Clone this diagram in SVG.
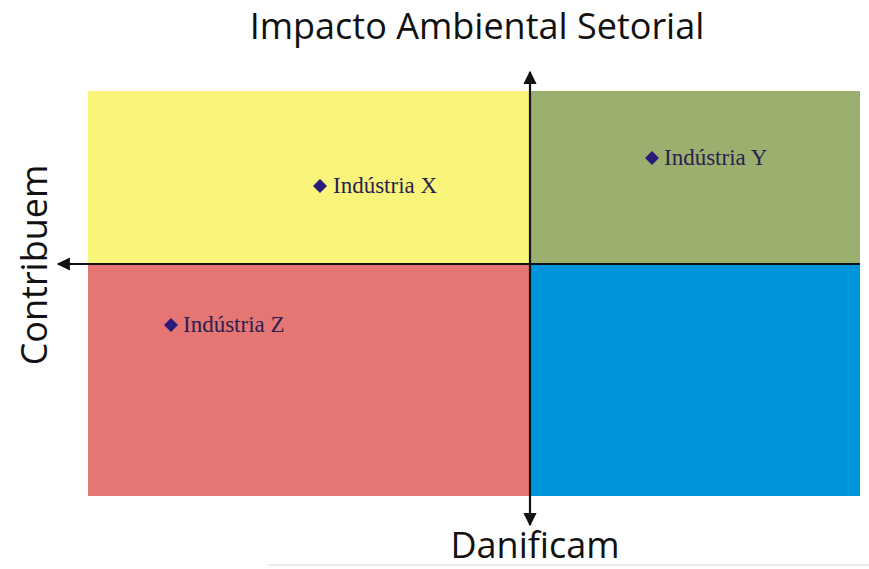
<svg xmlns="http://www.w3.org/2000/svg" width="869" height="569" viewBox="0 0 869 569">
<defs>
<marker id="arr" viewBox="0 0 10 10" refX="9" refY="5" markerWidth="6" markerHeight="6" orient="auto" markerUnits="strokeWidth">
<path d="M0,0 L10,5 L0,10 z" fill="#111"/>
</marker>
<style>
.axis{font-family:"Open Sans","Liberation Sans",sans-serif;font-size:36px;fill:#111}
.lbl{font-family:"Liberation Serif","DejaVu Serif",serif;font-size:23px;fill:#2b1f4f}
.dia{fill:#2a1a7a}
.ax{stroke:#111;stroke-width:2.2;fill:none}
</style>
</defs>
<rect width="869" height="569" fill="#fff"/>
<g id="quadrants">
<rect id="q-yellow" x="88" y="91" width="442" height="173" fill="#f9f47a"/>
<rect id="q-green" x="530" y="91" width="330" height="173" fill="#9bb06e"/>
<rect id="q-red" x="88" y="264" width="442" height="232" fill="#e57674"/>
<rect id="q-blue" x="530" y="264" width="330" height="232" fill="#0096dc"/>
</g>
<g id="connectors">
<line class="ax" x1="530" y1="264" x2="530" y2="72" marker-end="url(#arr)"/>
<line class="ax" x1="530" y1="264" x2="530" y2="525" marker-end="url(#arr)"/>
<line class="ax" x1="860" y1="264" x2="58" y2="264" marker-end="url(#arr)"/>
</g>
<line x1="268" y1="565" x2="869" y2="565" stroke="#e6e6e6" stroke-width="1.5"/>
<g id="title"><text class="axis" x="477" y="39" text-anchor="middle">Impacto Ambiental Setorial</text></g>
<g id="bottom-label"><text class="axis" x="535" y="558" text-anchor="middle">Danificam</text></g>
<g id="left-label"><text class="axis" transform="translate(47,265) rotate(-90)" text-anchor="middle">Contribuem</text></g>
<g id="industria-x">
<path class="dia" d="M320,179 L327,186 L320,193 L313,186 z"/>
<text class="lbl" x="333" y="193">Indústria X</text>
</g>
<g id="industria-y">
<path class="dia" d="M652,151 L659,158 L652,165 L645,158 z"/>
<text class="lbl" x="664" y="165">Indústria Y</text>
</g>
<g id="industria-z">
<path class="dia" d="M171,318 L178,325 L171,332 L164,325 z"/>
<text class="lbl" x="183" y="332">Indústria Z</text>
</g>
</svg>
